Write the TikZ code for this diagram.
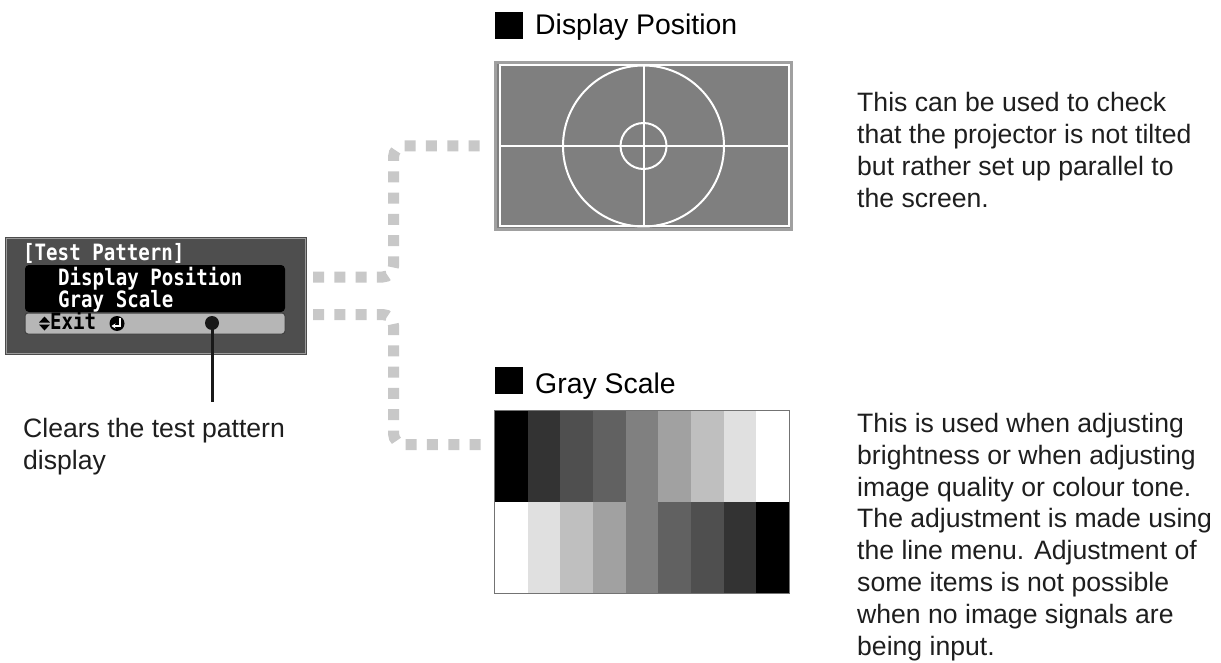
\documentclass[tikz,border=0pt]{standalone}
\usepackage{fontspec}
\setmainfont{Liberation Sans}
\newfontfamily\menufont[FakeStretch=0.85]{DejaVu Sans Mono}
\usetikzlibrary{arrows.meta}
\definecolor{txt}{HTML}{1E1E1E}
\definecolor{menubg}{HTML}{4E4E4E}
\definecolor{menuedge}{HTML}{9A9A9A}
\definecolor{exitbar}{HTML}{B6B6B6}
\definecolor{dotted}{HTML}{C8C8C8}
\definecolor{screen}{HTML}{7F7F7F}
\definecolor{screenedge}{HTML}{A0A0A0}
\tikzset{
  body/.style={font=\fontsize{26.6}{31.8}\selectfont, align=left, inner sep=0pt, text=txt, anchor=base west},
  head/.style={font=\fontsize{28.4}{34}\selectfont, inner sep=0pt, text=black, anchor=base west},
  headsq/.style={fill=black, draw=none},
  menutext/.style={font=\menufont\bfseries\fontsize{22.5}{24}\selectfont, text=white, inner sep=0pt, anchor=base west},
  conn/.style={draw=dotted, line width=11pt, dash pattern=on 11pt off 10.3pt, rounded corners=11pt, line cap=butt},
  wline/.style={draw=white, line width=2pt},
}
\begin{document}
\begin{tikzpicture}[x=1pt,y=-1pt]
\useasboundingbox[fill=white] (0,0) rectangle (1221,663);

% ---------- menu ----------
\node[draw=menuedge, line width=1.6pt, fill=menubg, minimum width=299pt, minimum height=115pt, inner sep=0pt] (menu) at (156,296) {};
\draw[black!70, line width=0.6pt] (menu.north west) rectangle (menu.south east);
\fill[black, rounded corners=4pt] (25,265) rectangle (285,312);
\draw[fill=exitbar, draw=black!75, line width=1pt, rounded corners=3pt] (25,313) rectangle (285,334);
\node[menutext] (m1) at (23,260) {[Test Pattern]};
\node[menutext] (m2) at (58,285) {Display Position};
\node[menutext] (m3) at (58,307) {Gray Scale};
\node[menutext, text=black] (m4) at (50,329.5) {Exit};
% up/down symbol
\fill[black] (39,322.5) -- (50,322.5) -- (44.5,316.5) -- cycle;
\fill[black] (39,324.5) -- (50,324.5) -- (44.5,330.5) -- cycle;
% enter icon
\node[circle, fill=black, minimum size=15pt, inner sep=0pt] (enter) at (117,323.5) {};
\draw[white, line width=1.5pt, -{Stealth[length=4pt,width=5pt]}] (120,317.5) -- (120,326) -- (111.5,326);
% dot and leader
\node[circle, fill=black!90, minimum size=14pt, inner sep=0pt] (dot) at (212,323) {};
\coordinate (leadend) at (212,402);
\draw[black!90, line width=3pt] (dot.center) -- (leadend);
% base anchor of a multi-line node = baseline of its last line
\node[body] (clear) at (23,469) {Clears the test pattern\\display};

% ---------- Display Position ----------
\node[headsq, minimum width=28pt, minimum height=27pt, inner sep=0pt] (sq1) at (509,25.5) {};
\node[head] (h1) at (535,35) {Display Position};
\node[fill=screen, draw=screenedge, line width=2.5pt, minimum width=296pt, minimum height=167pt, inner sep=0pt] (dp) at (643.5,146) {};
\draw[wline] (499.5,65.5) rectangle (788.5,226);
\draw[wline] (643.5,65.5) -- (643.5,226);
\draw[wline] (499.5,146) -- (788.5,146);
\draw[wline] (643.5,146) circle[radius=80.5pt];
\draw[wline] (643.5,146) circle[radius=23pt];
\node[body] (t1) at (857,207.4) {This can be used to check\\that the projector is not tilted\\but rather set up parallel to\\the screen.};

% ---------- Gray Scale ----------
\node[headsq, minimum width=28pt, minimum height=27pt, inner sep=0pt] (sq2) at (509,380.5) {};
\node[head] (h2) at (535,393) {Gray Scale};
\node[draw=black!55, line width=1.5pt, minimum width=294pt, minimum height=182pt, inner sep=0pt] (gs) at (642,502) {};
\foreach \i/\t/\b in {0/0/100, 1/20/88, 2/31/75, 3/38/63, 4/50/50, 5/63/38, 6/75/31, 7/88/20, 8/100/0} {
  \fill[white!\t!black] ({495+\i*32.667},411) rectangle ({495+(\i+1)*32.667},502);
  \fill[white!\b!black] ({495+\i*32.667},502) rectangle ({495+(\i+1)*32.667},593);
}
\draw[black!55, line width=1.2pt] (gs.north west) rectangle (gs.south east);
\node[body] (t2) at (857,655) {This is used when adjusting\\brightness or when adjusting\\image quality or colour tone.\\The adjustment is made using\\the line menu. Adjustment of\\some items is not possible\\when no image signals are\\being input.};

% ---------- connectors ----------
\coordinate (a1) at (313,277);
\coordinate (a2) at (487,146);
\coordinate (b1) at (313,314.5);
\coordinate (b2) at (487,444.5);
\draw[conn] (a1) -- (393.5,277) -- (393.5,146) -- (a2);
\draw[conn] (b1) -- (393.5,314.5) -- (393.5,444.5) -- (b2);
\end{tikzpicture}
\end{document}
